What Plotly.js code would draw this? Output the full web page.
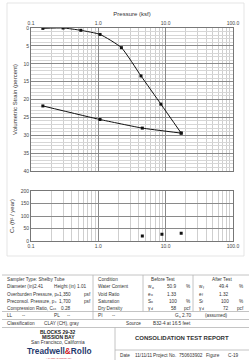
<!DOCTYPE html>
<html><head><meta charset="utf-8">
<script src="https://cdn.plot.ly/plotly-3.0.1.min.js"></script>
<style>html,body{margin:0;padding:0;background:#fff}#c{width:251px;height:360px}</style>
</head><body><div id="c"></div>
<script>
// ---- data ----
const loadPressure = [0.15, 0.3, 0.55, 1.06, 2.2, 4.3, 8.5, 17];
const loadStrain   = [0.1, 0.0, 0.65, 1.8, 5.5, 13.4, 21.3, 29.4];
const unloadPressure = [17, 4.5, 1.06, 0.15];
const unloadStrain   = [29.4, 28.0, 25.6, 21.8];
const cvPressure = [4.5, 8.8, 17];
const cvValues   = [20, 27, 31];
const xTickVals = [0.1, 1, 10, 100];
const xTickText = ['0.1', '1.0', '10.0', '100.0'];
const strainTicks = [0, 5, 10, 15, 20, 25, 30, 35, 40];
const cvTicks = [0, 50, 100, 150, 200];

const W = 251, H = 360;
const X = v => v / W, Y = v => 1 - v / H;
const minorLog = [];
for (let d = -1; d < 2; d++) for (let k = 2; k <= 9; k++) minorLog.push(k * Math.pow(10, d));
const FONT = 'Liberation Sans, Arial, sans-serif';
const FS = 4.7;

const traces = [
  {x: loadPressure, y: loadStrain, mode: 'lines+markers', line: {color: '#111', width: 1, shape: 'spline', smoothing: 0.5},
   marker: {symbol: 'square', size: 3, color: '#111'}, xaxis: 'x', yaxis: 'y', hoverinfo: 'none'},
  {x: unloadPressure, y: unloadStrain, mode: 'lines+markers', line: {color: '#111', width: 1, shape: 'spline', smoothing: 0.4},
   marker: {symbol: 'square', size: 3, color: '#111'}, xaxis: 'x', yaxis: 'y', hoverinfo: 'none'},
  {x: cvPressure, y: cvValues, mode: 'markers', marker: {symbol: 'square', size: 3, color: '#111'},
   xaxis: 'x2', yaxis: 'y2', hoverinfo: 'none'}
];

const logAxis = (extra) => Object.assign({
  type: 'log', range: [-1, 2], tickmode: 'array', tickvals: xTickVals, ticktext: xTickText,
  showgrid: true, gridcolor: '#8a8a8a', gridwidth: 1, ticks: '', showline: true, mirror: true,
  linecolor: '#777', linewidth: 1, zeroline: false, tickfont: {size: 5, color: '#444', family: FONT},
  minor: {tickmode: 'array', tickvals: minorLog, showgrid: true, gridcolor: '#cfcfcf', gridwidth: 1, ticks: ''}
}, extra);

const ann = [];
const shapes = [];
function T(x, y, text, opt) {
  opt = opt || {};
  ann.push({xref: 'paper', yref: 'paper', x: X(x), y: Y(y), text: text, showarrow: false,
    xanchor: opt.a || 'left', yanchor: 'middle',
    font: {size: opt.s || FS, color: opt.c || '#333', family: opt.f || FONT}});
}
// small subscript as its own text
function S(x, y, text) { T(x, y + 1.4, text, {s: 3.4}); }
function L(x0, y0, x1, y1, c, w) {
  shapes.push({type: 'line', xref: 'paper', yref: 'paper', x0: X(x0), y0: Y(y0), x1: X(x1), y1: Y(y1),
    line: {color: c || '#b5b5b5', width: w || 0.8}});
}
// outer faint frame of chart area
shapes.push({type: 'rect', xref: 'paper', yref: 'paper', x0: X(7), y0: Y(256), x1: X(244), y1: Y(3),
  line: {color: '#dedede', width: 0.8}});

// table lines
L(2, 275, 249, 275);
L(2, 311.5, 249, 311.5);
L(2, 319.5, 249, 319.5);
L(2, 327.5, 249, 327.5);
L(93, 275, 93, 319.5);
L(143, 275, 143, 311.5);
L(193, 275, 193, 311.5);
L(115, 327.5, 115, 360);
L(115, 350, 249, 350);

// table text
const r = [279, 286.5, 294, 301, 308, 315.5, 323.5];
T(5, r[0], 'Sampler Type: Shelby Tube');
T(96, r[0], 'Condition');
T(163, r[0], 'Before Test', {a: 'center'});
T(222, r[0], 'After Test', {a: 'center'});

T(5, r[1], 'Diameter (in)'); T(46, r[1], '2.41', {a: 'right'});
T(52, r[1], 'Height (in)'); T(89, r[1], '1.01', {a: 'right'});
T(96, r[1], 'Water Content');
T(146, r[1], 'w'); S(149.5, r[1], 'o'); T(179, r[1], '50.9', {a: 'right'}); T(184, r[1], '%');
T(197, r[1], 'w'); S(200.5, r[1], 'f'); T(231, r[1], '49.4', {a: 'right'}); T(237, r[1], '%');

T(5, r[2], 'Overburden Pressure, p'); S(55.3, r[2], 'o'); T(73, r[2], '1,350', {a: 'right'}); T(82, r[2], 'psf');
T(96, r[2], 'Void Ratio');
T(146, r[2], 'e'); S(148.8, r[2], 'o'); T(179, r[2], '1.33', {a: 'right'});
T(197, r[2], 'e'); S(199.8, r[2], 'f'); T(231, r[2], '1.32', {a: 'right'});

T(5, r[3], 'Preconsol. Pressure, p'); S(52.5, r[3], 'c'); T(73, r[3], '1,700', {a: 'right'}); T(82, r[3], 'psf');
T(96, r[3], 'Saturation');
T(146, r[3], 'S'); S(149.2, r[3], 'o'); T(179, r[3], '100', {a: 'right'}); T(184, r[3], '%');
T(197, r[3], 'S'); S(200.2, r[3], 'f'); T(231, r[3], '100', {a: 'right'}); T(237, r[3], '%');

T(5, r[4], 'Compression Ratio, C'); S(51, r[4], 'cε'); T(73, r[4], '0.28', {a: 'right'});
T(96, r[4], 'Dry Density');
T(146, r[4], 'γ'); S(148.6, r[4], 'd'); T(179, r[4], '58', {a: 'right'}); T(182, r[4], 'pcf');
T(197, r[4], 'γ'); S(199.6, r[4], 'd'); T(231, r[4], '72', {a: 'right'}); T(235, r[4], 'pcf');

T(5, r[5], 'LL'); T(20, r[5], '--'); T(52, r[5], 'PL'); T(65, r[5], '--');
T(96, r[5], 'PI'); T(110, r[5], '--');
T(173, r[5], 'G'); S(176.8, r[5], 's'); T(194, r[5], '2.70', {a: 'right'}); T(203, r[5], '(assumed)');

T(5, r[6], 'Classification'); T(42, r[6], 'CLAY (CH), gray');
T(124, r[6], 'Source'); T(151, r[6], 'B32-4 at 16.5 feet');

T(58, 331.5, '<b>BLOCKS 29-32</b>', {a: 'center', s: 5, c: '#222'});
T(58, 337, '<b>MISSION BAY</b>', {a: 'center', s: 5, c: '#222'});
T(58, 342.3, 'San Francisco, California', {a: 'center', s: 4.8, c: '#333'});
T(182, 338, '<b>CONSOLIDATION TEST REPORT</b>', {a: 'center', s: 6, c: '#333'});
T(59, 351, '<b><span style="color:#1f3a6e">Treadwell</span><span style="color:#d0202a">&amp;</span><span style="color:#1f3a6e">Rollo</span></b>', {a: 'center', s: 8.3});
T(59, 358.4, 'A LANGAN COMPANY', {a: 'center', s: 2.5, c: '#c02030'});
T(118, 355.5, 'Date'); T(133, 355.5, '11/11/11'); T(151, 355.5, 'Project No.'); T(177, 355.5, '750603902');
T(204, 355.5, 'Figure'); T(226, 355.5, 'C-19');

const layout = {
  width: W, height: H, margin: {l: 0, r: 0, t: 0, b: 0}, showlegend: false,
  paper_bgcolor: '#fff', plot_bgcolor: '#fff', font: {family: FONT, color: '#333'},
  xaxis: logAxis({domain: [X(31), X(233)], anchor: 'y', side: 'top',
    title: {text: 'Pressure (ksf)', font: {size: 6, color: '#333', family: FONT}, standoff: 2}}),
  yaxis: {domain: [Y(171), Y(28)], anchor: 'x', range: [40, 0], tickmode: 'array', tickvals: strainTicks,
    showgrid: true, gridcolor: '#8a8a8a', ticks: '', showline: true, mirror: true, linecolor: '#777', zeroline: false,
    tickfont: {size: 5, color: '#444', family: FONT},
    minor: {dtick: 1, showgrid: true, gridcolor: '#d6d6d6', ticks: ''},
    title: {text: 'Volumetric Strain (percent)', font: {size: 6, color: '#333', family: FONT}, standoff: 5}},
  xaxis2: logAxis({domain: [X(31), X(233)], anchor: 'y2', side: 'bottom'}),
  yaxis2: {domain: [Y(241), Y(191)], anchor: 'x2', range: [0, 200], tickmode: 'array', tickvals: cvTicks,
    showgrid: true, gridcolor: '#8a8a8a', ticks: '', showline: true, mirror: true, linecolor: '#777', zeroline: false,
    tickfont: {size: 5, color: '#444', family: FONT},
    title: {text: 'Cᵥ (ft² / year)', font: {size: 6, color: '#333', family: FONT}, standoff: 5}},
  annotations: ann, shapes: shapes
};
Plotly.newPlot('c', traces, layout, {staticPlot: true, displayModeBar: false});
</script></body></html>
